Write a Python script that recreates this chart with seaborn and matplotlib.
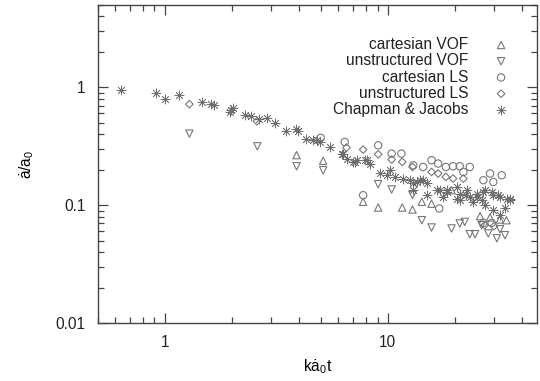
import matplotlib
matplotlib.use('Agg')
import matplotlib.pyplot as plt
import seaborn as sns
from matplotlib.ticker import LogLocator, NullFormatter

# values: x = k a0 t, y = a_dot / a0
cart_vof_x = [3.90, 5.13, 7.75, 9.05, 11.6, 12.9, 14.2, 15.7, 19.3, 25.9, 28.7, 31.8, 34.0]
cart_vof_y = [0.266, 0.238, 0.107, 0.0956, 0.0956, 0.092, 0.107, 0.103, 0.134, 0.0807, 0.0787, 0.0757, 0.0746]

unst_vof_x = [1.29, 2.60, 3.90, 5.13, 9.05, 10.4, 12.9, 14.2, 15.7, 19.3, 21.0, 22.1,
              23.3, 24.6, 26.3, 28.2, 30.8, 33.5, 31.8]
unst_vof_y = [0.405, 0.316, 0.214, 0.198, 0.151, 0.136, 0.122, 0.0746, 0.0647, 0.0635, 0.070, 0.0722,
              0.0568, 0.0568, 0.0677, 0.0576, 0.0524, 0.0557, 0.0626]

cart_ls_x = [5.0, 6.41, 9.05, 10.4, 11.5, 13.0, 14.4, 15.7, 16.8, 18.2, 19.6, 21.0, 23.3,
             21.8, 28.7, 32.4, 26.8, 29.7, 7.75, 17.0, 26.8, 29.2]
cart_ls_y = [0.373, 0.344, 0.3225, 0.274, 0.274, 0.218, 0.211, 0.241, 0.2256, 0.211, 0.214, 0.214, 0.211,
             0.1915, 0.1857, 0.1795, 0.163, 0.1575, 0.1216, 0.0938, 0.0708, 0.0708]

unst_ls_x = [1.29, 2.59, 6.53, 7.75, 9.05, 10.4, 11.6, 12.9, 15.7, 16.8, 18.2, 19.6, 21.8, 27.2, 29.9]
unst_ls_y = [0.72, 0.515, 0.308, 0.2965, 0.2705, 0.244, 0.233, 0.2113, 0.1915, 0.1857, 0.1738, 0.1683,
             0.1683, 0.0677, 0.0664]

cj_x = [0.64, 0.918, 1.0, 1.161, 1.466, 1.62, 1.664, 1.971, 1.991, 2.018, 2.284, 2.448, 2.648, 2.875,
        3.113, 3.513, 3.896, 3.96, 4.32, 4.624, 4.79, 4.955, 5.495, 6.2, 6.3, 6.53, 6.99, 7.24, 8.03,
        9.21, 9.87, 10.74, 11.71, 12.99, 13.92, 14.91, 17.1, 18.33, 21.0, 22.5, 25.0, 26.7, 29.65, 31.8,
        35.2, 7.11, 7.88, 8.30, 10.2, 12.55, 13.45, 12.99, 14.39, 16.53, 18.33, 20.33, 22.54, 25.0, 27.2,
        29.2, 31.2, 34.05, 35.25, 14.91, 17.7, 20.33, 24.13, 21.0, 27.2, 29.66, 31.8, 26.3, 33.5, 23.3]
cj_y = [0.956, 0.902, 0.80, 0.855, 0.751, 0.722, 0.714, 0.618, 0.638, 0.664, 0.587, 0.573, 0.543, 0.554,
        0.498, 0.426, 0.447, 0.426, 0.367, 0.360, 0.356, 0.344, 0.313, 0.274, 0.274, 0.249, 0.233, 0.241,
        0.244, 0.186, 0.1795, 0.174, 0.168, 0.153, 0.163, 0.153, 0.134, 0.130, 0.1257, 0.1216, 0.1175,
        0.130, 0.1216, 0.1175, 0.114, 0.233, 0.241, 0.2256, 0.198, 0.163, 0.1575, 0.134, 0.163, 0.134,
        0.134, 0.143, 0.134, 0.1257, 0.134, 0.1297, 0.1216, 0.114, 0.110, 0.1216, 0.1175, 0.114, 0.1067,
        0.110, 0.100, 0.0907, 0.0823, 0.110, 0.094, 0.118]

plt.rcParams['font.family'] = ['Liberation Sans', 'DejaVu Sans']
plt.rcParams['mathtext.default'] = 'regular'
plt.rcParams['font.size'] = 11.2
plt.rcParams['text.color'] = '#222222'

fig = plt.figure(figsize=(5.4, 3.81), dpi=100)
ax = fig.add_axes([0.1806, 0.152, 0.8138, 0.835])

gray = '#777777'
open_kw = dict(s=28, facecolor='none', edgecolor=gray, color=gray, linewidth=0.8, ax=ax)
sns.scatterplot(x=cart_vof_x, y=cart_vof_y, marker='^', label='cartesian VOF', **open_kw)
sns.scatterplot(x=unst_vof_x, y=unst_vof_y, marker='v', label='unstructured VOF', **open_kw)
sns.scatterplot(x=cart_ls_x, y=cart_ls_y, marker='o', label='cartesian LS', **open_kw)
sns.scatterplot(x=unst_ls_x, y=unst_ls_y, marker='D', label='unstructured LS',
                s=15, facecolor='none', edgecolor=gray, color=gray, linewidth=0.8, ax=ax)
sns.scatterplot(x=cj_x, y=cj_y, marker=(8, 2, 0), label='Chapman & Jacobs',
                s=42, color='#6e6e6e', linewidth=0.55, ax=ax)

ax.set_xscale('log')
ax.set_yscale('log')
ax.set_xlim(0.5, 46.6)
ax.set_ylim(0.01, 5)
ax.set_xticks([1, 10], labels=['1', '10'])
ax.set_yticks([0.01, 0.1, 1], labels=['0.01', '0.1', '1'])
ax.xaxis.set_minor_locator(LogLocator(base=10, subs=range(2, 10)))
ax.yaxis.set_minor_locator(LogLocator(base=10, subs=range(2, 10)))
ax.xaxis.set_minor_formatter(NullFormatter())
ax.yaxis.set_minor_formatter(NullFormatter())
ax.tick_params(which='both', direction='in', top=True, right=True, color='#444444',
               labelcolor='#222222', pad=8.5, width=0.9)
ax.tick_params(which='major', length=7)
ax.tick_params(which='minor', length=4)
for sp in ax.spines.values():
    sp.set_color('#444444')
    sp.set_linewidth(1.0)

ax.set_xlabel('kȧ$_0$t', labelpad=5)
ax.set_ylabel('ȧ/a$_0$', labelpad=14)

ax.legend(loc='upper right', bbox_to_anchor=(0.936, 0.899), frameon=False, markerfirst=False,
          handlelength=1.0, handletextpad=1.6, labelspacing=0.08, borderpad=0, borderaxespad=0)

plt.savefig('out.png', dpi=100)
